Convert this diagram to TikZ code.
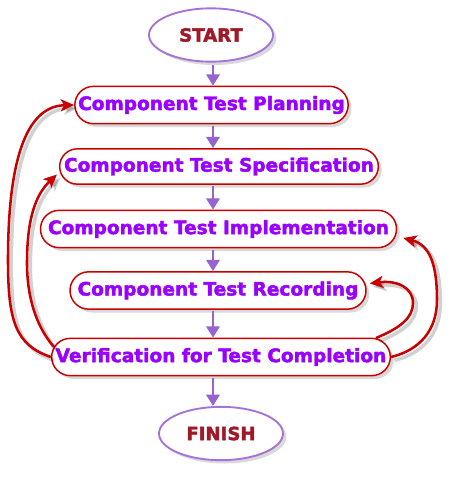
\documentclass[tikz,border=0pt]{standalone}
\usepackage{fontspec}
\setmainfont{DejaVu Sans}[BoldFeatures={FakeBold=2.2}]
\usetikzlibrary{shapes.geometric,shapes.misc,shadows,arrows.meta,calc}
\definecolor{boxred}{RGB}{200,0,0}
\definecolor{txtpurple}{RGB}{153,0,255}
\definecolor{endred}{RGB}{160,25,40}
\definecolor{lavender}{RGB}{165,115,215}
\definecolor{arrowpurple}{RGB}{150,100,210}
\begin{document}
\begin{tikzpicture}[x=0.75pt,y=0.75pt,yscale=-1,xscale=1,
  endnode/.style={ellipse, draw=lavender, line width=1.4pt, fill=white, text=endred,
    font=\fontsize{13.6}{16}\selectfont\bfseries, inner sep=0pt,
    minimum width=93pt, minimum height=40pt,
    drop shadow={shadow xshift=2.5pt, shadow yshift=-2.5pt, opacity=0.3}},
  stepnode/.style={rounded rectangle, draw=boxred, line width=1.1pt, fill=white, text=txtpurple,
    font=\fontsize{13.9}{16}\selectfont\bfseries, inner xsep=2pt, inner ysep=0pt,
    minimum height=28pt,
    drop shadow={shadow xshift=2.5pt, shadow yshift=-2.5pt, opacity=0.3}},
  flowarrow/.style={draw=arrowpurple, line width=2.2pt, -{Triangle[length=8.5pt,width=10pt]}},
  backarrow/.style={draw=boxred, line width=1.9pt, -{Stealth[length=10pt,width=9pt,inset=2.5pt]},
    preaction={draw=black, opacity=0.18, line width=2.6pt, transform canvas={shift={(2.5pt,-2.5pt)}}}}]
\useasboundingbox (0,0) rectangle (450,478);

%Shape: Ellipse [start]
\node[endnode] (start) at (211,35) {START};
%Shape: Rounded Rect [steps]
\node[stepnode, minimum width=209pt] (plan) at (211.5,105) {Component Test Planning};
\node[stepnode, minimum width=243pt, minimum height=26.5pt] (spec) at (219,166.5) {Component Test Specification};
\node[stepnode, minimum width=271pt] (impl) at (218.5,229) {Component Test Implementation};
\node[stepnode, minimum width=226pt] (rec) at (218,290.5) {Component Test Recording};
\node[stepnode, minimum width=258pt] (verif) at (221,357) {Verification for Test Completion};
%Shape: Ellipse [finish]
\node[endnode] (finish) at (221,433.5) {FINISH};

%Straight Lines
\coordinate (axis) at (213,0);
\draw[flowarrow, shorten <=2pt] (start.south -| axis) -- (plan.north -| axis);
\draw[flowarrow, shorten <=1pt] (plan.south -| axis) -- (spec.north -| axis);
\draw[flowarrow, shorten <=1pt] (spec.south -| axis) -- (impl.north -| axis);
\draw[flowarrow, shorten <=1pt] (impl.south -| axis) -- (rec.north -| axis);
\draw[flowarrow, shorten <=1pt] (rec.south -| axis) -- (verif.north -| axis);
\draw[flowarrow, shorten <=1pt] (verif.south -| axis) -- (finish.north -| axis);

%Curve Lines
\draw[backarrow] (verif.west) .. controls (15,345) and (8,320) .. (8,260) .. controls (8,150) and (30,106) .. (plan.west);
\draw[backarrow] ($(verif.west)+(3,-10)$) .. controls (35,325) and (27,295) .. (27,263) .. controls (27,220) and (35,195) .. ($(spec.west)+(-2,8)$);
\draw[backarrow] (verif.east) .. controls (420,350) and (437,330) .. (437,300) .. controls (437,265) and (430,245) .. ($(impl.east)+(6,9)$);
\draw[backarrow] ($(verif.east)+(-15,-19)$) .. controls (400,328) and (413,318) .. (413,303) .. controls (413,288) and (398,280) .. ($(rec.east)+(3,-7)$);

\end{tikzpicture}
\end{document}
